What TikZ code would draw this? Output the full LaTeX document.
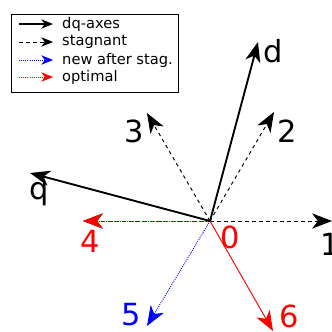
\documentclass[tikz,border=0pt]{standalone}
\usepackage{fontspec}
\setmainfont{DejaVu Sans}
\usetikzlibrary{arrows, arrows.meta}

\begin{document}
\begin{tikzpicture}[x=0.03cm, y=-0.03cm,
	axis/.style={-{Stealth[length=17pt, width=13pt, inset=5pt]}, line width=1.6pt},
	stag/.style={-{Stealth[length=17pt, width=13pt, inset=5pt]}, dashed, line width=0.8pt},
	newvec/.style={-{Stealth[length=17pt, width=13pt, inset=5pt]}, blue, densely dotted, line width=0.8pt},
	optvec/.style={-{Stealth[length=17pt, width=13pt, inset=5pt]}, red, line width=0.8pt},
	small/.style={-{Stealth[length=10pt, width=8pt, inset=3pt]}},
	lbl/.style={font=\fontsize{26}{26}\selectfont, inner sep=0pt},
	leg/.style={anchor=west, inner sep=0pt, font=\fontsize{12.5}{12.5}\selectfont}]
			
			\useasboundingbox (0,0) rectangle (332,332);
			
			% legend
			\draw[line width=0.7pt] (11,14) rectangle (178,92);
			\draw[axis, small, line width=1pt] (19,24) -- (53,24);
			\draw[stag, small] (19,42) -- (53,42);
			\draw[newvec, small] (19,60) -- (53,60);
			\draw[optvec, small, densely dotted] (19,77) -- (53,77);
			\draw(62,24) node[leg]{dq-axes};
			\draw(62,42) node[leg]{stagnant};
			\draw(62,60) node[leg]{new after stag.};
			\draw(62,77) node[leg]{optimal};
			
			% vectors
			\coordinate (O) at (210,221);
			\coordinate (V1) at (332,221);
			\coordinate (V2) at (274,112);
			\coordinate (V3) at (147,113);
			\coordinate (V4) at (83,221);
			\coordinate (V5) at (147,326);
			\coordinate (V6) at (273,331);
			\coordinate (D) at (258,42);
			\coordinate (Q) at (30,173);
			
			\draw[stag] (O) -- (V1);
			\draw[stag] (O) -- (V2);
			\draw[stag] (O) -- (V3);
			\draw[stag] (O) -- (V4);
			\draw[optvec, densely dotted] (O) -- (V4);
			\draw[newvec] (O) -- (V5);
			\draw[optvec] (O) -- (V6);
			\draw[axis] (O) -- (D);
			\draw[axis] (O) -- (Q);
			
			\draw(273,51) node[lbl]{d};
			\draw(39,194) node[lbl]{q};
			\draw(230,237) node[lbl, red]{0};
			\draw(330,244) node[lbl]{1};
			\draw(287,131) node[lbl]{2};
			\draw(134,131) node[lbl]{3};
			\draw(90,241) node[lbl, red]{4};
			\draw(131,315) node[lbl, blue]{5};
			\draw(289,316) node[lbl, red]{6};
		\end{tikzpicture}
\end{document}
